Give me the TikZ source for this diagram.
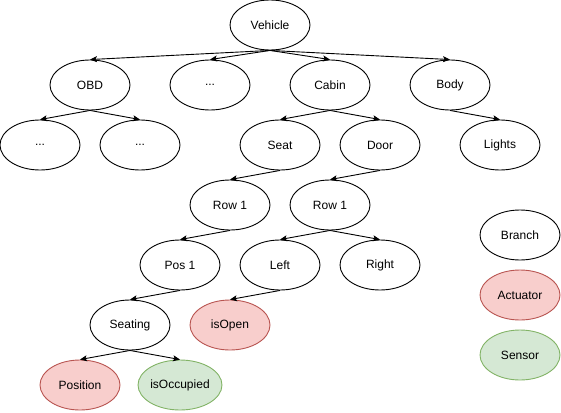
\documentclass[tikz,border=0pt]{standalone}
\usepackage{fontspec}
\setmainfont{Liberation Sans}
\usetikzlibrary{shapes.geometric,arrows.meta}
\definecolor{redfill}{HTML}{F8CECC}
\definecolor{redline}{HTML}{B85450}
\definecolor{greenfill}{HTML}{D5E8D4}
\definecolor{greenline}{HTML}{82B366}
\begin{document}
\begin{tikzpicture}[x=1pt,y=-1pt,
  nd/.style={ellipse,draw=black,line width=0.9pt,minimum width=80pt,minimum height=50pt,inner sep=0pt,font=\fontsize{12}{14}\selectfont},
  act/.style={nd,draw=redline,fill=redfill},
  sen/.style={nd,draw=greenline,fill=greenfill},
  edge/.style={line width=0.9pt,-{Stealth[length=7pt,width=6pt,inset=1.5pt]}}]
\useasboundingbox (0,0) rectangle (561,412);
\node[nd] (veh) at (270,25) {Vehicle};
\node[nd] (obd) at (90,85) {OBD};
\node[nd] (dots1) at (210,85) {...};
\node[nd] (cabin) at (330,85) {Cabin};
\node[nd] (body) at (450,85) {Body};
\node[nd] (dots2) at (40,145) {...};
\node[nd] (dots3) at (140,145) {...};
\node[nd] (seat) at (280,145) {Seat};
\node[nd] (door) at (380,145) {Door};
\node[nd] (lights) at (500,145) {Lights};
\node[nd] (row1a) at (230,205) {Row 1};
\node[nd] (row1b) at (330,205) {Row 1};
\node[nd] (pos1) at (180,265) {Pos 1};
\node[nd] (left) at (280,265) {Left};
\node[nd] (right) at (380,265) {Right};
\node[nd] (seating) at (130,325) {Seating};
\node[act] (isopen) at (230,325) {isOpen};
\node[act] (position) at (80,385) {Position};
\node[sen] (isocc) at (180,385) {isOccupied};
\node[nd] (branch) at (520,235) {Branch};
\node[act] (actuator) at (520,295) {Actuator};
\node[sen] (sensor) at (520,355) {Sensor};
\foreach \a/\b in {veh/obd,veh/dots1,veh/cabin,veh/body,obd/dots2,obd/dots3,cabin/seat,cabin/door,body/lights,seat/row1a,door/row1b,row1a/pos1,row1b/left,row1b/right,pos1/seating,left/isopen,seating/position,seating/isocc}
  \draw[edge] (\a.south) -- (\b.north);
\end{tikzpicture}
\end{document}
